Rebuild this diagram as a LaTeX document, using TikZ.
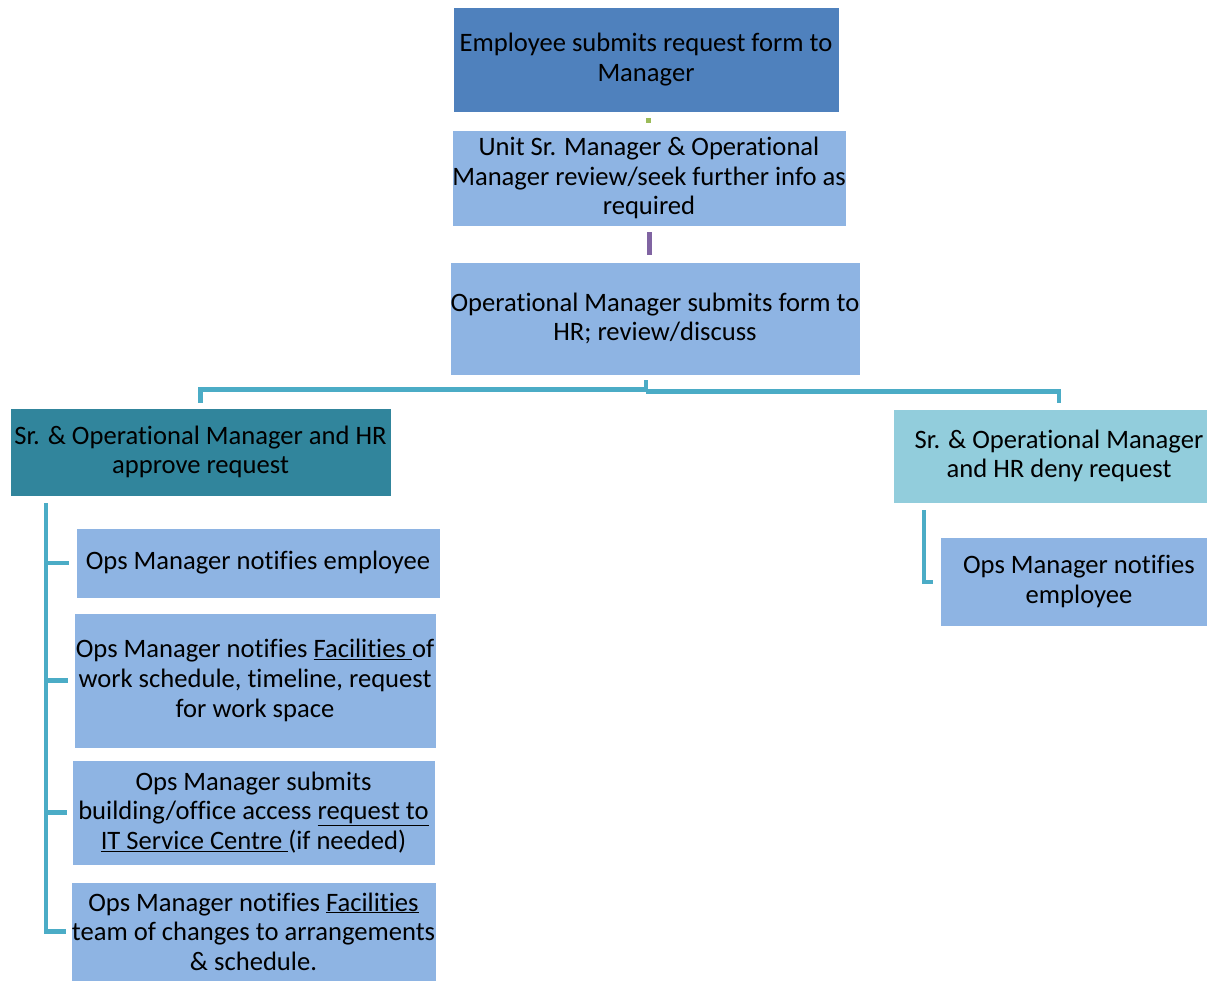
\documentclass[tikz,border=0pt]{standalone}
\usepackage{fontspec}
\setmainfont[Ligatures={NoCommon,NoContextual}]{Carlito}
\usetikzlibrary{calc}
\definecolor{darkblue}{HTML}{4F81BD}
\definecolor{lightblue}{HTML}{8EB4E3}
\definecolor{tealdark}{HTML}{31859C}
\definecolor{teallight}{HTML}{92CDDC}
\definecolor{treecol}{HTML}{4BACC6}
\definecolor{greencol}{HTML}{9BBB59}
\definecolor{purplecol}{HTML}{8064A2}
\begin{document}
\begin{tikzpicture}[x=1pt,y=-1pt,
  box/.style={rectangle, draw=white, line width=0.6pt, inner sep=0pt, align=center,
    font=\fontsize{26.6}{29.6}\selectfont, text=black},
  tree/.style={draw=treecol, line width=4.5pt, line join=miter},
  ]
\path[use as bounding box] (0,0) rectangle (1207,981);
\begin{scope}
\clip (0,0) rectangle (1207,981);
% top chain
\node[box, fill=darkblue, minimum width=386pt, minimum height=105pt] (emp) at (646,59.5)
  {Employee submits request form to\\Manager};
\node[box, fill=lightblue, minimum width=394pt, minimum height=96pt] (unit) at (649,178)
  {Unit Sr. Manager \& Operational\\Manager review/seek further info as\\required};
\node[box, fill=lightblue, minimum width=410pt, minimum height=113pt] (op) at (655,318.5)
  {Operational Manager submits form to\\HR; review/discuss};
% second level
\node[box, fill=tealdark, minimum width=381pt, minimum height=88pt] (appr) at (200.5,452)
  {Sr. \& Operational Manager and HR\\approve request};
\node[box, fill=teallight, minimum width=332pt, minimum height=94pt] (deny) at (1059,456)
  {Sr. \& Operational Manager\\and HR deny request};
% left children
\node[box, fill=lightblue, minimum width=364pt, minimum height=70pt] (ca) at (258,563)
  {Ops Manager notifies employee};
\node[box, fill=lightblue, minimum width=362pt, minimum height=135pt] (cb) at (255,680.5)
  {Ops Manager notifies \underline{Facilities\ }of\\work schedule, timeline, request\\for work space};
\node[box, fill=lightblue, minimum width=363pt, minimum height=105pt] (cc) at (253.5,812.5)
  {Ops Manager submits\\building/office access \underline{request to}\\\underline{IT Service Centre\ }(if needed)};
\node[box, fill=lightblue, minimum width=365pt, minimum height=99pt] (cd) at (253.5,931.5)
  {Ops Manager notifies \underline{Facilities}\\team of changes to arrangements\\\& schedule.};
% right child
\node[box, fill=lightblue, minimum width=278pt, minimum height=89pt] (re) at (1079,581.5)
  {Ops Manager notifies\\employee};
% connectors top
\draw[draw=greencol, line width=5pt] ([xshift=2.5pt,yshift=-6pt]emp.south) -- ([xshift=2.5pt,yshift=-11pt]emp.south);
\draw[draw=purplecol, line width=5pt] ([yshift=-6pt]unit.south) -- ([yshift=7pt]unit.south |- op.north);
% split
\coordinate (m) at ([xshift=-9pt,yshift=-5pt]op.south);
\draw[tree] (m) -- ++(0,9) coordinate (mm);
\draw[tree] (mm) -| ([yshift=5pt]appr.north);
\draw[tree] ([yshift=-2pt]mm) -| ([yshift=6pt]deny.north);
% left tree
\coordinate (lt) at ([yshift=-7pt]appr.south -| 46,0);
\draw[tree] (lt) |- ([xshift=-5pt]cd.west);
\draw[tree] (lt |- ca.west) -- ([xshift=-7pt]ca.west);
\draw[tree] (lt |- cb.west) -- ([xshift=-6pt]cb.west);
\draw[tree] (lt |- cc.west) -- ([xshift=-5pt]cc.west);
% right tree
\coordinate (rt) at ([yshift=-7pt]deny.south -| 924,0);
\draw[tree, line width=4pt] (rt) |- ([xshift=-7pt]re.west);
\end{scope}
\end{tikzpicture}
\end{document}
